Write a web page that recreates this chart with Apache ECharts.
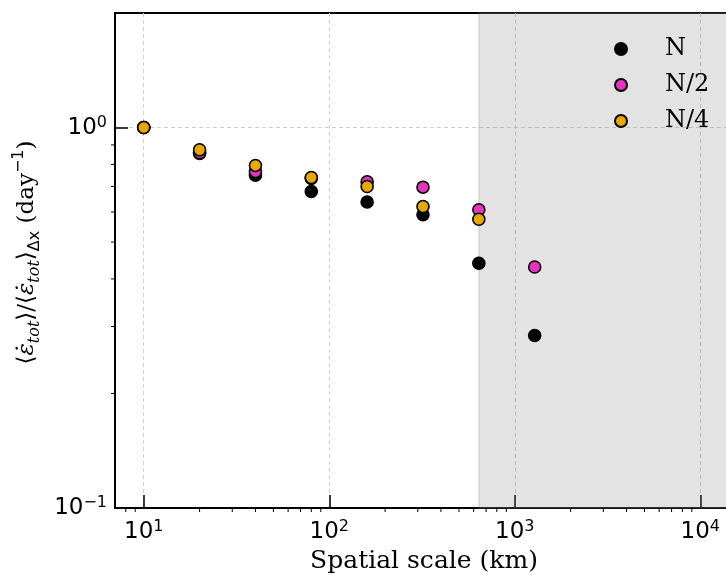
<!DOCTYPE html>
<html>
<head>
<meta charset="utf-8">
<script src="https://cdn.jsdelivr.net/npm/echarts/dist/echarts.min.js"></script>
<style>
  html, body { margin: 0; padding: 0; background: #fff; }
  #chart { width: 726px; height: 575px; }
</style>
</head>
<body>
<div id="chart"></div>
<script>
// spatial scales (km)
const scales = [10, 20, 40, 80, 160, 320, 640, 1280];
// normalised total deformation rate, one array per resolution
const nFull = [1.0, 0.855, 0.749, 0.679, 0.637, 0.590, 0.440, 0.284];
const nHalf = [1.0, 0.860, 0.766, 0.735, 0.720, 0.697, 0.608, 0.430];
const nQuarter = [1.0, 0.874, 0.795, 0.739, 0.700, 0.620, 0.574];
const seriesNames = ["N", "N/2", "N/4"];
// shaded region starts here
const shadeStart = 640;
// axis ranges
const xRange = [7, 15000];
const yRange = [0.1, 2];
// minor tick positions
const xMinor = [8, 9, 20, 30, 40, 50, 60, 70, 80, 90, 200, 300, 400, 500, 600, 700, 800, 900,
  2000, 3000, 4000, 5000, 6000, 7000, 8000, 9000];
const yMinor = [0.2, 0.3, 0.4, 0.5, 0.6, 0.7, 0.8, 0.9];

const SERIF = "'DejaVu Serif', serif";
const SANS = "'DejaVu Sans', sans-serif";

function pairs(xs, ys) {
  return ys.map((y, i) => [xs[i], y]);
}

function powLabel(v) {
  const lg = Math.log10(v);
  const k = Math.round(lg);
  if (Math.abs(lg - k) > 1e-6) return "";
  return "{b|10}{p|" + String(k).replace("-", "\u2212") + "}";
}

const tickRich = {
  b: { fontFamily: SANS, fontSize: 23, lineHeight: 26, color: "#000" },
  p: { fontFamily: SANS, fontSize: 16, lineHeight: 16, verticalAlign: "top", color: "#000" }
};

function minorTicks(dx, dy) {
  return function (params, api) {
    const p = api.coord([api.value(0), api.value(1)]);
    return {
      type: "line",
      shape: { x1: p[0], y1: p[1], x2: p[0] + dx, y2: p[1] + dy },
      style: { stroke: "#000", lineWidth: 1 }
    };
  };
}

function dots(name, color, data) {
  return {
    name: name,
    type: "scatter",
    data: data,
    symbol: "circle",
    symbolSize: 12,
    itemStyle: { color: color, borderColor: "#000", borderWidth: 1.6, opacity: 1 },
    z: 5
  };
}

const chart = echarts.init(document.getElementById("chart"));
chart.setOption({
  animation: false,
  backgroundColor: "#fff",
  grid: {
    left: 115, top: 13, width: 618, height: 495,
    outerBoundsMode: "none",
    show: true, borderColor: "#000", borderWidth: 2, backgroundColor: "transparent"
  },
  legend: {
    data: seriesNames,
    orient: "vertical",
    left: 609, top: 32,
    itemWidth: 12, itemHeight: 12, itemGap: 12,
    icon: "circle",
    formatter: n => "{g|}" + n,
    textStyle: {
      fontFamily: SERIF, fontSize: 24, lineHeight: 24, color: "#000",
      rich: { g: { width: 33 } }
    }
  },
  xAxis: {
    type: "log", logBase: 10, min: xRange[0], max: xRange[1],
    name: "Spatial scale (km)", nameLocation: "middle", nameGap: 41,
    nameTextStyle: { fontFamily: SERIF, fontSize: 25, color: "#000" },
    axisLine: { show: true, lineStyle: { color: "#000", width: 2 } },
    axisTick: { show: true, inside: true, length: 13, lineStyle: { color: "#000", width: 1.5 } },
    axisLabel: { formatter: powLabel, margin: 11, rich: tickRich },
    splitLine: { show: true, showMinLine: false, showMaxLine: false,
      lineStyle: { color: "#cfcfcf", width: 1, type: [4, 3] } }
  },
  yAxis: {
    type: "log", logBase: 10, min: yRange[0], max: yRange[1],
    name: "{m|\u27e8}{e|\u03b5\u0307}{s|tot}{m|\u27e9/\u27e8}{e|\u03b5\u0307}{s|tot}{m|\u27e9}{s2|\u0394x}{m| (day}{p|\u22121}{m|)}",
    nameLocation: "middle", nameRotate: 90, nameGap: 68,
    nameTextStyle: {
      padding: [0, 0, 0, 16],
      rich: {
        m: { fontFamily: SERIF, fontSize: 23, lineHeight: 32, color: "#000" },
        e: { fontFamily: SERIF, fontStyle: "italic", fontSize: 23, lineHeight: 32, color: "#000" },
        s: { fontFamily: SERIF, fontStyle: "italic", fontSize: 16, lineHeight: 16, verticalAlign: "bottom", color: "#000" },
        s2: { fontFamily: SANS, fontSize: 16, lineHeight: 16, verticalAlign: "bottom", color: "#000" },
        p: { fontFamily: SANS, fontSize: 16, lineHeight: 16, verticalAlign: "top", color: "#000" }
      }
    },
    axisLine: { show: true, lineStyle: { color: "#000", width: 2 } },
    axisTick: { show: true, inside: true, length: 13, lineStyle: { color: "#000", width: 1.5 } },
    axisLabel: { formatter: powLabel, margin: 8, rich: tickRich },
    splitLine: { show: true, showMinLine: false, showMaxLine: false,
      lineStyle: { color: "#cfcfcf", width: 1, type: [4, 3] } }
  },
  series: [
    Object.assign(dots(seriesNames[0], "#000", pairs(scales, nFull)), {
      markArea: {
        silent: true,
        itemStyle: { color: "rgba(128,128,128,0.22)", borderColor: "rgba(128,128,128,0.18)", borderWidth: 2 },
        data: [[{ xAxis: shadeStart }, { xAxis: xRange[1] }]]
      }
    }),
    dots(seriesNames[1], "#E535BF", pairs(scales, nHalf)),
    dots(seriesNames[2], "#E8A800", pairs(scales, nQuarter)),
    {
      type: "custom", silent: true, clip: false, z: 6,
      renderItem: minorTicks(0, 4),
      data: xMinor.map(v => [v, yRange[0]])
    },
    {
      type: "custom", silent: true, clip: false, z: 6,
      renderItem: minorTicks(-4, 0),
      data: yMinor.map(v => [xRange[0], v])
    }
  ]
});
</script>
</body>
</html>
